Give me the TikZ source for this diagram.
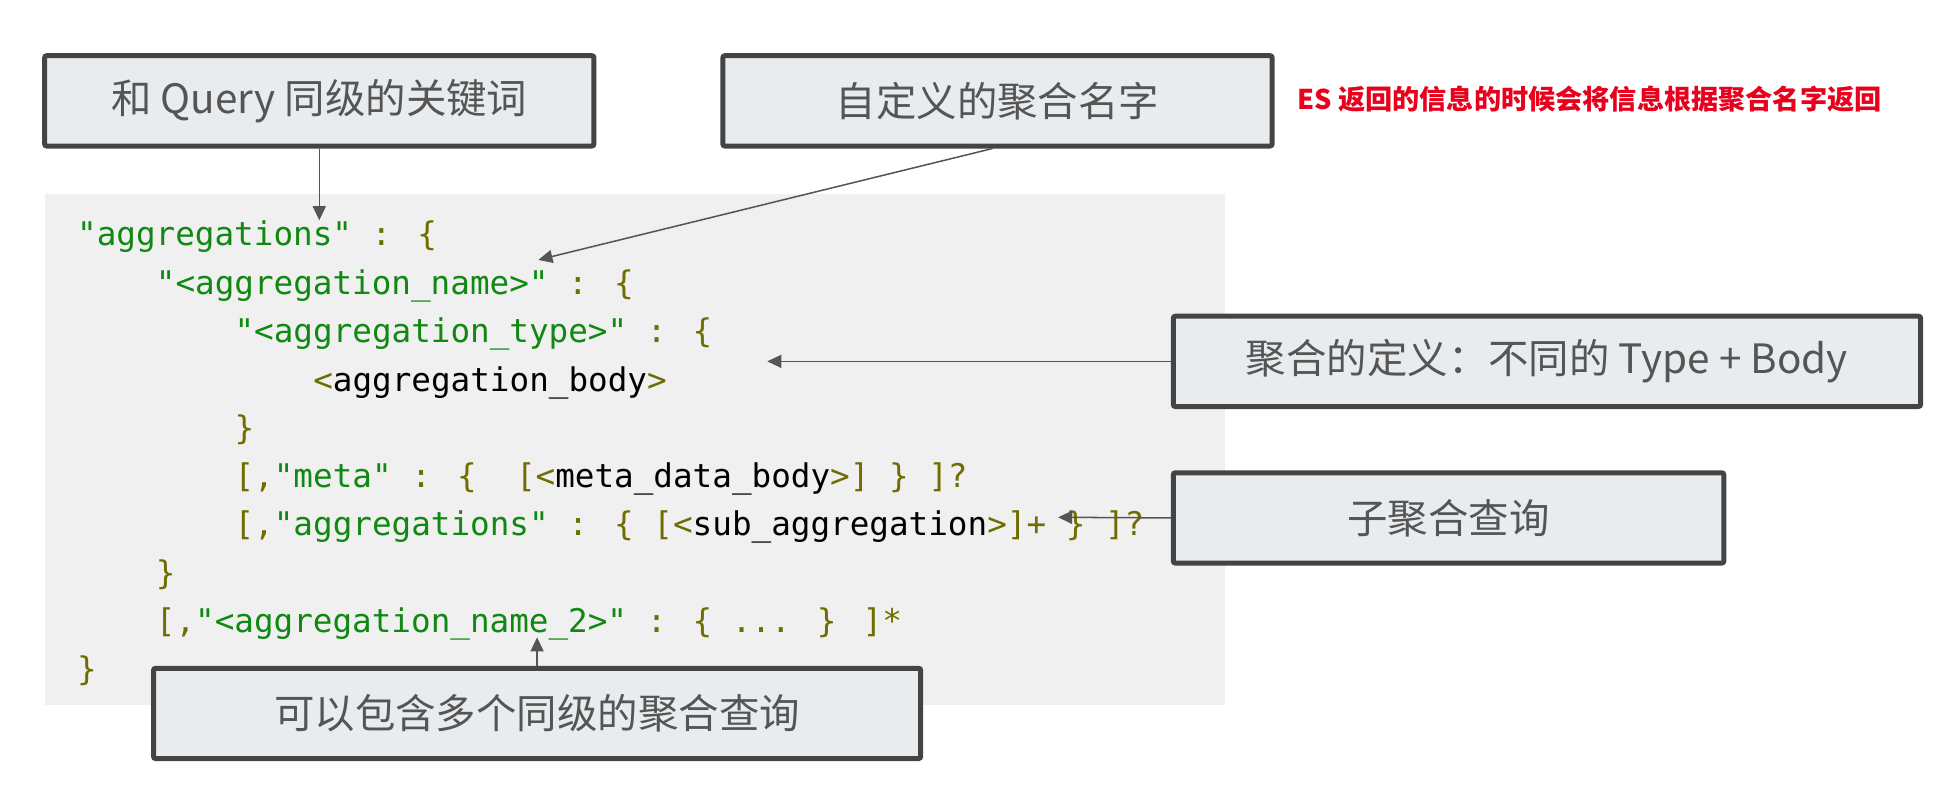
\documentclass[tikz,border=0pt]{standalone}
\usepackage{xcolor}
\usepackage{fontspec}
\usepackage{tikz}
\usetikzlibrary{calc}
\usetikzlibrary{arrows.meta}
\setmainfont{Noto Sans CJK SC}
\newfontfamily\codefont{DejaVu Sans Mono}
\definecolor{r85g85b85}{rgb}{0.333333,0.333333,0.333333}
\definecolor{r68g68b68}{rgb}{0.266667,0.266667,0.266667}
\definecolor{r233g236b238}{rgb}{0.913725,0.925490,0.933333}
\definecolor{r240g240b240}{rgb}{0.941176,0.941176,0.941176}
\definecolor{r17g136b17}{rgb}{0.066667,0.533333,0.066667}
\definecolor{r110g110b0}{rgb}{0.431373,0.431373,0.000000}
\definecolor{r232g0b28}{rgb}{0.909804,0.000000,0.109804}
\newcommand{\gs}[1]{\textcolor{r17g136b17}{#1}}
\newcommand{\ps}[1]{\textcolor{r110g110b0}{#1}}
\tikzset{
  notebox/.style={draw=r68g68b68, line width=2.3pt, fill=r233g236b238, rounded corners=1pt,
    text=r85g85b85, font=\fontsize{18.6}{22}\selectfont, minimum height=1.46cm, inner sep=0pt},
  codeline/.style={anchor=base west, inner sep=0pt, font=\codefont\fontsize{15}{18}\selectfont},
  pointer/.style={draw=r85g85b85, line width=0.7pt, -{Triangle[length=6.5pt,width=6pt]}}
}

\begin{document}
\begin{tikzpicture}[x=0.02cm, y=-0.02cm]
                        \useasboundingbox (0,0) rectangle (1566,642);%

                        % Drawing code background
                        \fill [r240g240b240] (36,157) rectangle (990,570);%

                        % Drawing code lines
                        \node [codeline] (l1) at (62,198) {\gs{"aggregations"} \ps{: \{}};%
                        \node [codeline] (l2) at (125.6,238) {\gs{"<aggregation\_name>"} \ps{: \{}};%
                        \node [codeline] (l3) at (189.2,277) {\gs{"<aggregation\_type>"} \ps{: \{}};%
                        \node [codeline] (l4) at (252.8,316) {\ps{<}aggregation\_body\ps{>}};%
                        \node [codeline] (l5) at (189.2,355) {\ps{\}}};%
                        \node [codeline] (l6) at (189.2,394) {\ps{[,}\gs{"meta"} \ps{: \{}\ \ \ps{[<}meta\_data\_body\ps{>] \} ]?}};%
                        \node [codeline] (l7) at (189.2,433) {\ps{[,}\gs{"aggregations"} \ps{: \{ [<}sub\_aggregation\ps{>]+ \} ]?}};%
                        \node [codeline] (l8) at (125.6,472) {\ps{\}}};%
                        \node [codeline] (l9) at (125.6,511) {\ps{[,}\gs{"<aggregation\_name\_2>"} \ps{: \{ ... \} ]*}};%
                        \node [codeline] (l10) at (62,550) {\ps{\}}};%

                        % Drawing note boxes
                        \node [notebox, minimum width=8.88cm] (kw) at (258,81.5) {和 Query 同级的关键词};%
                        \node [notebox, minimum width=8.88cm] (nm) at (806,81.5) {自定义的聚合名字};%
                        \node [notebox, minimum width=12.08cm] (def) at (1250,292) {聚合的定义：不同的 Type + Body};%
                        \node [notebox, minimum width=8.9cm] (sub) at (1170.5,418.5) {子聚合查询};%
                        \node [notebox, minimum width=12.4cm] (multi) at (434,576.5) {可以包含多个同级的聚合查询};%

                        % Marking red remark
                        \node [anchor=west, inner sep=0pt, text=r232g0b28, font=\bfseries\fontsize{12.5}{15}\selectfont] (es) at (1048,80) {ES 返回的信息的时候会将信息根据聚合名字返回};%

                        % Marking arrow ends
                        \coordinate (kwend) at (258,178);%
                        \coordinate (nmend) at (435,210);%
                        \coordinate (defend) at (620,292);%
                        \coordinate (subend) at (855,418);%
                        \coordinate (multiend) at (434,515);%

                        % Drawing arrows
                        \draw [pointer] (kw.south) -- (kwend);%
                        \draw [pointer] ($(nm.south)+(-4,0)$) -- (nmend);%
                        \draw [pointer] (def.west) -- (defend);%
                        \draw [pointer] (sub.west) -- (subend);%
                        \draw [pointer] (multi.north) -- (multiend);%
\end{tikzpicture}
\end{document}
